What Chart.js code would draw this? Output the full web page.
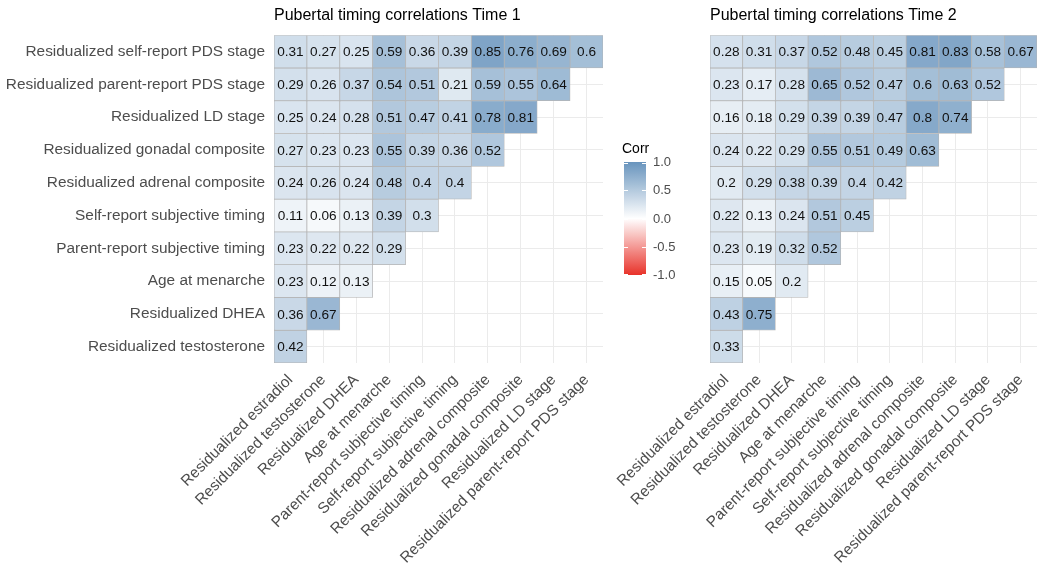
<!DOCTYPE html>
<html>
<head>
<meta charset="utf-8">
<script src="https://cdn.jsdelivr.net/npm/chart.js@4.4.1/dist/chart.umd.min.js"></script>
<style>
    html, body { margin: 0; padding: 0; background: #fff; }
    #wrap { position: relative; width: 1050px; height: 577px; overflow: hidden;
            font-family: "Liberation Sans", Arial, sans-serif; }
    #wrap canvas { position: absolute; left: 0; top: 0; }
    #legend { position: absolute; left: 0; top: 0; }
    .ltitle { position: absolute; left: 622px; top: 140px; font-size: 14px; color: #000; }
    .lbar { position: absolute; left: 624px; top: 162px; width: 22px; height: 113px; }
    .ltick { position: absolute; width: 4px; height: 1px; background: #fff; }
    .llabel { position: absolute; left: 653px; font-size: 13px; color: #4d4d4d; line-height: 14px; }
</style>
</head>
<body>
<div id="wrap">
    <canvas id="time1Chart" width="1050" height="577"></canvas>
    <canvas id="time2Chart" width="1050" height="577"></canvas>
    <div id="legend"></div>
</div>
<script>
/* Pubertal timing correlation heatmaps, Time 1 and Time 2. */

// Column variables (left to right).
var xLabels = [
    "Residualized estradiol",
    "Residualized testosterone",
    "Residualized DHEA",
    "Age at menarche",
    "Parent-report subjective timing",
    "Self-report subjective timing",
    "Residualized adrenal composite",
    "Residualized gonadal composite",
    "Residualized LD stage",
    "Residualized parent-report PDS stage"
];

// Row variables (top to bottom).
var yLabels = [
    "Residualized self-report PDS stage",
    "Residualized parent-report PDS stage",
    "Residualized LD stage",
    "Residualized gonadal composite",
    "Residualized adrenal composite",
    "Self-report subjective timing",
    "Parent-report subjective timing",
    "Age at menarche",
    "Residualized DHEA",
    "Residualized testosterone"
];

// Correlations per row, top to bottom; each row starts at the first column.
var time1Values = [
    [0.31, 0.27, 0.25, 0.59, 0.36, 0.39, 0.85, 0.76, 0.69, 0.6],
    [0.29, 0.26, 0.37, 0.54, 0.51, 0.21, 0.59, 0.55, 0.64],
    [0.25, 0.24, 0.28, 0.51, 0.47, 0.41, 0.78, 0.81],
    [0.27, 0.23, 0.23, 0.55, 0.39, 0.36, 0.52],
    [0.24, 0.26, 0.24, 0.48, 0.4, 0.4],
    [0.11, 0.06, 0.13, 0.39, 0.3],
    [0.23, 0.22, 0.22, 0.29],
    [0.23, 0.12, 0.13],
    [0.36, 0.67],
    [0.42]
];

var time2Values = [
    [0.28, 0.31, 0.37, 0.52, 0.48, 0.45, 0.81, 0.83, 0.58, 0.67],
    [0.23, 0.17, 0.28, 0.65, 0.52, 0.47, 0.6, 0.63, 0.52],
    [0.16, 0.18, 0.29, 0.39, 0.39, 0.47, 0.8, 0.74],
    [0.24, 0.22, 0.29, 0.55, 0.51, 0.49, 0.63],
    [0.2, 0.29, 0.38, 0.39, 0.4, 0.42],
    [0.22, 0.13, 0.24, 0.51, 0.45],
    [0.23, 0.19, 0.32, 0.52],
    [0.15, 0.05, 0.2],
    [0.43, 0.75],
    [0.33]
];

var legendTicks = [1.0, 0.5, 0.0, -0.5, -1.0];

var FONT = '"Liberation Sans", Arial, sans-serif';
var HIGH = [104, 148, 189];
var LOW = [232, 50, 42];

// Gradient white -> blue for positive, white -> red for negative.
function corrColour(v) {
    var end = v >= 0 ? HIGH : LOW;
    var t = Math.min(Math.abs(v), 1);
    var c = end.map(function (e) {
        return Math.round(255 + (e - 255) * t);
    });
    return "rgb(" + c.join(",") + ")";
}

// Draw the coefficient text in the middle of each tile.
var cellText = {
    id: "cellText",
    afterDatasetsDraw: function (chart) {
        var ctx = chart.ctx;
        ctx.save();
        ctx.font = "13.6px " + FONT;
        ctx.fillStyle = "#111";
        ctx.textAlign = "center";
        ctx.textBaseline = "middle";
        chart.data.datasets.forEach(function (ds, i) {
            var meta = chart.getDatasetMeta(i);
            meta.data.forEach(function (bar, j) {
                if (ds.corr[j] === undefined) return;
                var p = bar.getCenterPoint();
                ctx.fillText(String(ds.corr[j]), p.x, p.y + 1);
            });
        });
        ctx.restore();
    }
};

function makePanel(canvasId, titleText, values, showY, axisWidth, padRight) {
    var nRows = yLabels.length;
    var datasets = values.map(function (row, r) {
        var base = nRows - 1 - r;
        return {
            data: xLabels.map(function (_, j) {
                return j < row.length ? [base, base + 1] : null;
            }),
            corr: row,
            grouped: false,
            barPercentage: 1,
            categoryPercentage: 1,
            backgroundColor: function (c) {
                return corrColour(row[c.dataIndex] || 0);
            },
            borderColor: "#b4b4b4",
            borderWidth: 0.75,
            borderSkipped: false
        };
    });

    new Chart(document.getElementById(canvasId), {
        type: "bar",
        data: { labels: xLabels, datasets: datasets },
        options: {
            responsive: false,
            animation: false,
            events: [],
            layout: { padding: { left: 0, right: padRight, top: 0, bottom: 0 } },
            plugins: {
                legend: { display: false },
                tooltip: { enabled: false },
                title: {
                    display: true,
                    text: titleText,
                    align: "start",
                    fullSize: false,
                    color: "#000",
                    font: { family: FONT, size: 16, weight: "normal" },
                    padding: { top: 6, bottom: 10 }
                }
            },
            scales: {
                x: {
                    type: "category",
                    offset: true,
                    border: { display: false },
                    grid: { color: "#ebebeb", offset: false, drawTicks: false },
                    ticks: {
                        autoSkip: false,
                        minRotation: 45,
                        maxRotation: 45,
                        padding: 8,
                        color: "#4d4d4d",
                        font: { family: FONT, size: 15.4 }
                    },
                    afterFit: function (s) { s.height = 214; }
                },
                y: {
                    type: "linear",
                    min: 0,
                    max: nRows,
                    border: { display: false },
                    grid: { color: "#ebebeb", drawTicks: false },
                    afterBuildTicks: function (s) {
                        s.ticks = yLabels.map(function (_, i) {
                            return { value: nRows - 1 - i + 0.5 };
                        });
                    },
                    ticks: {
                        display: showY,
                        padding: 9,
                        color: "#4d4d4d",
                        font: { family: FONT, size: 15.4 },
                        callback: function (v) {
                            return yLabels[Math.round(nRows - 0.5 - v)];
                        }
                    },
                    afterFit: function (s) { s.width = axisWidth; }
                }
            }
        },
        plugins: [cellText]
    });
}

// Colour bar legend built from the same colour function.
function makeLegend() {
    var box = document.getElementById("legend");
    var top = 162, height = 113;
    var html = '<div class="ltitle">Corr</div>';
    var stops = [];
    for (var k = 0; k <= 20; k++) {
        var v = 1 - k / 10;
        stops.push(corrColour(v) + " " + (k * 5) + "%");
    }
    html += '<div class="lbar" style="background:linear-gradient(to bottom,' + stops.join(",") + ')"></div>';
    legendTicks.forEach(function (v) {
        var y = top + (1 - v) / 2 * height;
        var ty = Math.min(Math.max(y, top + 1), top + height - 1);
        html += '<div class="ltick" style="left:624px;top:' + ty + 'px"></div>';
        html += '<div class="ltick" style="left:642px;top:' + ty + 'px"></div>';
        html += '<div class="llabel" style="top:' + (y - 7) + 'px">' + v.toFixed(1) + '</div>';
    });
    box.innerHTML = html;
}

document.addEventListener("DOMContentLoaded", function () {
    makePanel("time1Chart", "Pubertal timing correlations Time 1", time1Values, true, 274, 447);
    makePanel("time2Chart", "Pubertal timing correlations Time 2", time2Values, false, 710, 13);
    makeLegend();
});
</script>
</body>
</html>
